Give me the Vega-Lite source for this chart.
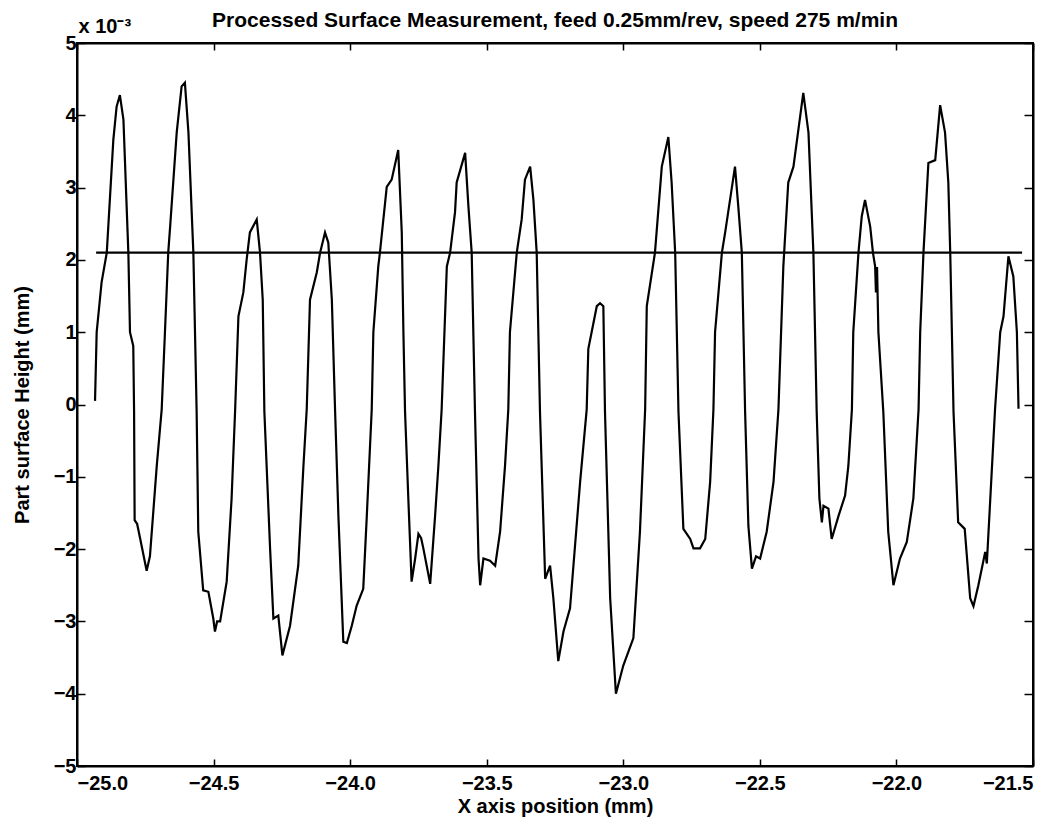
{
  "$schema": "https://vega.github.io/schema/vega-lite/v6.json",
  "width": 956,
  "height": 723,
  "autosize": {"type": "none"},
  "padding": {"left": 77, "top": 43, "right": 26, "bottom": 59},
  "background": "white",
  "title": {
    "text": "Processed Surface Measurement, feed 0.25mm/rev, speed 275 m/min",
    "font": "Liberation Sans",
    "fontSize": 21,
    "fontWeight": "bold",
    "color": "black",
    "anchor": "middle",
    "frame": "group",
    "offset": 2,
    "dy": 17
  },
  "config": {
    "view": {"stroke": "black", "strokeWidth": 2},
    "axis": {
      "grid": false,
      "domainColor": "black",
      "domainWidth": 2,
      "tickColor": "black",
      "tickWidth": 1.5,
      "labelFont": "Liberation Sans",
      "labelFontWeight": "bold",
      "labelFontSize": 20,
      "labelColor": "black",
      "titleFont": "Liberation Sans",
      "titleFontWeight": "bold",
      "titleFontSize": 20,
      "titleColor": "black"
    }
  },
  "datasets": {
    "profile": [
      {"x": -24.934, "h": 0.05}, {"x": -24.928, "h": 1.0}, {"x": -24.910, "h": 1.69}, {"x": -24.891, "h": 2.1},
      {"x": -24.867, "h": 3.66}, {"x": -24.855, "h": 4.12}, {"x": -24.843, "h": 4.28}, {"x": -24.830, "h": 3.94},
      {"x": -24.812, "h": 2.1}, {"x": -24.806, "h": 1.0}, {"x": -24.794, "h": 0.81}, {"x": -24.791, "h": -0.1},
      {"x": -24.789, "h": -1.6}, {"x": -24.780, "h": -1.65}, {"x": -24.769, "h": -1.85}, {"x": -24.745, "h": -2.3},
      {"x": -24.733, "h": -2.1}, {"x": -24.708, "h": -0.85}, {"x": -24.690, "h": -0.07}, {"x": -24.678, "h": 1.0},
      {"x": -24.666, "h": 2.1}, {"x": -24.659, "h": 2.46}, {"x": -24.635, "h": 3.76}, {"x": -24.617, "h": 4.4},
      {"x": -24.605, "h": 4.45}, {"x": -24.592, "h": 3.76}, {"x": -24.574, "h": 2.1}, {"x": -24.562, "h": -0.1},
      {"x": -24.556, "h": -1.76}, {"x": -24.538, "h": -2.57}, {"x": -24.519, "h": -2.59}, {"x": -24.501, "h": -2.96},
      {"x": -24.495, "h": -3.14}, {"x": -24.487, "h": -3.0}, {"x": -24.476, "h": -3.0}, {"x": -24.452, "h": -2.45},
      {"x": -24.434, "h": -1.3}, {"x": -24.421, "h": -0.07}, {"x": -24.409, "h": 1.22}, {"x": -24.391, "h": 1.55},
      {"x": -24.379, "h": 2.0}, {"x": -24.367, "h": 2.38}, {"x": -24.342, "h": 2.56}, {"x": -24.330, "h": 2.1},
      {"x": -24.320, "h": 1.45}, {"x": -24.314, "h": -0.1}, {"x": -24.293, "h": -2.0}, {"x": -24.281, "h": -2.96},
      {"x": -24.263, "h": -2.92}, {"x": -24.248, "h": -3.47}, {"x": -24.220, "h": -3.06}, {"x": -24.190, "h": -2.23},
      {"x": -24.171, "h": -0.85}, {"x": -24.159, "h": -0.07}, {"x": -24.147, "h": 1.45}, {"x": -24.122, "h": 1.83},
      {"x": -24.110, "h": 2.1}, {"x": -24.092, "h": 2.38}, {"x": -24.080, "h": 2.24}, {"x": -24.067, "h": 1.45},
      {"x": -24.055, "h": -0.1}, {"x": -24.043, "h": -1.54}, {"x": -24.025, "h": -3.28}, {"x": -24.012, "h": -3.3},
      {"x": -23.994, "h": -3.06}, {"x": -23.976, "h": -2.78}, {"x": -23.952, "h": -2.55}, {"x": -23.939, "h": -1.54},
      {"x": -23.921, "h": -0.07}, {"x": -23.915, "h": 1.0}, {"x": -23.897, "h": 1.91}, {"x": -23.891, "h": 2.1},
      {"x": -23.866, "h": 3.01}, {"x": -23.848, "h": 3.11}, {"x": -23.824, "h": 3.52}, {"x": -23.811, "h": 2.38},
      {"x": -23.805, "h": 1.0}, {"x": -23.799, "h": -0.1}, {"x": -23.787, "h": -1.3}, {"x": -23.775, "h": -2.45},
      {"x": -23.762, "h": -2.13}, {"x": -23.750, "h": -1.79}, {"x": -23.740, "h": -1.85}, {"x": -23.732, "h": -1.99},
      {"x": -23.707, "h": -2.48}, {"x": -23.689, "h": -1.54}, {"x": -23.677, "h": -0.85}, {"x": -23.665, "h": -0.07},
      {"x": -23.646, "h": 1.91}, {"x": -23.634, "h": 2.1}, {"x": -23.616, "h": 2.66}, {"x": -23.610, "h": 3.07},
      {"x": -23.579, "h": 3.48}, {"x": -23.567, "h": 2.74}, {"x": -23.555, "h": 2.1}, {"x": -23.543, "h": -0.1},
      {"x": -23.530, "h": -2.13}, {"x": -23.524, "h": -2.5}, {"x": -23.512, "h": -2.13}, {"x": -23.488, "h": -2.16},
      {"x": -23.469, "h": -2.23}, {"x": -23.451, "h": -1.76}, {"x": -23.433, "h": -0.85}, {"x": -23.421, "h": -0.07},
      {"x": -23.415, "h": 1.0}, {"x": -23.390, "h": 2.1}, {"x": -23.372, "h": 2.56}, {"x": -23.360, "h": 3.11},
      {"x": -23.341, "h": 3.29}, {"x": -23.329, "h": 2.83}, {"x": -23.317, "h": 2.1}, {"x": -23.305, "h": -0.1},
      {"x": -23.286, "h": -2.41}, {"x": -23.268, "h": -2.23}, {"x": -23.256, "h": -2.68}, {"x": -23.238, "h": -3.55},
      {"x": -23.219, "h": -3.14}, {"x": -23.195, "h": -2.82}, {"x": -23.158, "h": -1.07}, {"x": -23.134, "h": -0.07},
      {"x": -23.128, "h": 0.77}, {"x": -23.097, "h": 1.36}, {"x": -23.085, "h": 1.4}, {"x": -23.073, "h": 1.36},
      {"x": -23.067, "h": -0.1}, {"x": -23.048, "h": -2.68}, {"x": -23.027, "h": -4.0}, {"x": -23.000, "h": -3.61},
      {"x": -22.963, "h": -3.23}, {"x": -22.939, "h": -1.76}, {"x": -22.920, "h": -0.07}, {"x": -22.914, "h": 1.36},
      {"x": -22.884, "h": 2.1}, {"x": -22.859, "h": 3.29}, {"x": -22.835, "h": 3.7}, {"x": -22.823, "h": 3.07},
      {"x": -22.810, "h": 2.1}, {"x": -22.798, "h": -0.1}, {"x": -22.780, "h": -1.72}, {"x": -22.755, "h": -1.86},
      {"x": -22.743, "h": -1.99}, {"x": -22.719, "h": -1.99}, {"x": -22.700, "h": -1.86}, {"x": -22.682, "h": -1.07},
      {"x": -22.670, "h": -0.07}, {"x": -22.664, "h": 1.0}, {"x": -22.639, "h": 2.1}, {"x": -22.627, "h": 2.38},
      {"x": -22.591, "h": 3.29}, {"x": -22.579, "h": 2.74}, {"x": -22.566, "h": 2.1}, {"x": -22.554, "h": -0.1},
      {"x": -22.542, "h": -1.68}, {"x": -22.529, "h": -2.27}, {"x": -22.514, "h": -2.1}, {"x": -22.499, "h": -2.13},
      {"x": -22.475, "h": -1.76}, {"x": -22.450, "h": -1.07}, {"x": -22.432, "h": -0.07}, {"x": -22.414, "h": 1.91},
      {"x": -22.396, "h": 3.07}, {"x": -22.377, "h": 3.29}, {"x": -22.341, "h": 4.31}, {"x": -22.322, "h": 3.76},
      {"x": -22.304, "h": 2.1}, {"x": -22.292, "h": -0.1}, {"x": -22.282, "h": -1.3}, {"x": -22.273, "h": -1.63},
      {"x": -22.267, "h": -1.4}, {"x": -22.249, "h": -1.44}, {"x": -22.237, "h": -1.86}, {"x": -22.212, "h": -1.54},
      {"x": -22.188, "h": -1.26}, {"x": -22.176, "h": -0.85}, {"x": -22.163, "h": -0.07}, {"x": -22.158, "h": 1.0},
      {"x": -22.139, "h": 2.1}, {"x": -22.127, "h": 2.6}, {"x": -22.115, "h": 2.83}, {"x": -22.096, "h": 2.46},
      {"x": -22.086, "h": 2.1}, {"x": -22.078, "h": 1.91}, {"x": -22.075, "h": 1.55}, {"x": -22.071, "h": 1.9},
      {"x": -22.066, "h": 1.0}, {"x": -22.048, "h": -0.1}, {"x": -22.030, "h": -1.76}, {"x": -22.011, "h": -2.5},
      {"x": -21.987, "h": -2.13}, {"x": -21.962, "h": -1.9}, {"x": -21.938, "h": -1.3}, {"x": -21.919, "h": -0.07},
      {"x": -21.913, "h": 1.0}, {"x": -21.901, "h": 2.1}, {"x": -21.883, "h": 3.34}, {"x": -21.858, "h": 3.38},
      {"x": -21.840, "h": 4.14}, {"x": -21.822, "h": 3.76}, {"x": -21.810, "h": 3.07}, {"x": -21.803, "h": 2.1},
      {"x": -21.791, "h": -0.1}, {"x": -21.774, "h": -1.63}, {"x": -21.750, "h": -1.72}, {"x": -21.730, "h": -2.68},
      {"x": -21.718, "h": -2.79}, {"x": -21.700, "h": -2.5}, {"x": -21.675, "h": -2.04}, {"x": -21.669, "h": -2.2},
      {"x": -21.639, "h": -0.07}, {"x": -21.620, "h": 1.0}, {"x": -21.608, "h": 1.22}, {"x": -21.590, "h": 2.05},
      {"x": -21.572, "h": 1.77}, {"x": -21.559, "h": 1.0}, {"x": -21.553, "h": -0.06}
    ],
    "meanline": [
      {"x": -24.93, "h": 2.1},
      {"x": -21.54, "h": 2.1}
    ]
  },
  "layer": [
    {
      "data": {"name": "profile"},
      "mark": {"type": "line", "color": "black", "strokeWidth": 2.2},
      "encoding": {
        "x": {
          "field": "x", "type": "quantitative",
          "scale": {"domain": [-25, -21.5], "nice": false, "zero": false},
          "axis": {
            "orient": "bottom",
            "title": "X axis position (mm)",
            "values": [-25, -24.5, -24, -23.5, -23, -22.5, -22, -21.5],
            "tickSize": -7,
            "labelPadding": 14,
            "titlePadding": 3
          }
        },
        "y": {
          "field": "h", "type": "quantitative",
          "scale": {"domain": [-5, 5], "nice": false, "zero": false},
          "axis": {
            "orient": "left",
            "title": "Part surface Height (mm)",
            "values": [-5, -4, -3, -2, -1, 0, 1, 2, 3, 4, 5],
            "tickSize": -8,
            "labelPadding": 9,
            "titlePadding": 21
          }
        }
      }
    },
    {
      "data": {"name": "meanline"},
      "mark": {"type": "line", "color": "black", "strokeWidth": 2.2},
      "encoding": {
        "x": {
          "field": "x", "type": "quantitative",
          "scale": {"domain": [-25, -21.5], "nice": false, "zero": false},
          "axis": {
            "orient": "top",
            "title": null,
            "labels": false,
            "values": [-25, -24.5, -24, -23.5, -23, -22.5, -22, -21.5],
            "tickSize": -7
          }
        },
        "y": {
          "field": "h", "type": "quantitative",
          "scale": {"domain": [-5, 5], "nice": false, "zero": false},
          "axis": {
            "orient": "right",
            "title": "x 10⁻³",
            "titleAngle": 0,
            "titleAlign": "left",
            "titleBaseline": "alphabetic",
            "titleX": -955,
            "titleY": -11,
            "titleFontSize": 20,
            "labels": false,
            "values": [-5, -4, -3, -2, -1, 0, 1, 2, 3, 4, 5],
            "tickSize": -9
          }
        }
      }
    }
  ],
  "resolve": {"axis": {"x": "independent", "y": "independent"}}
}
